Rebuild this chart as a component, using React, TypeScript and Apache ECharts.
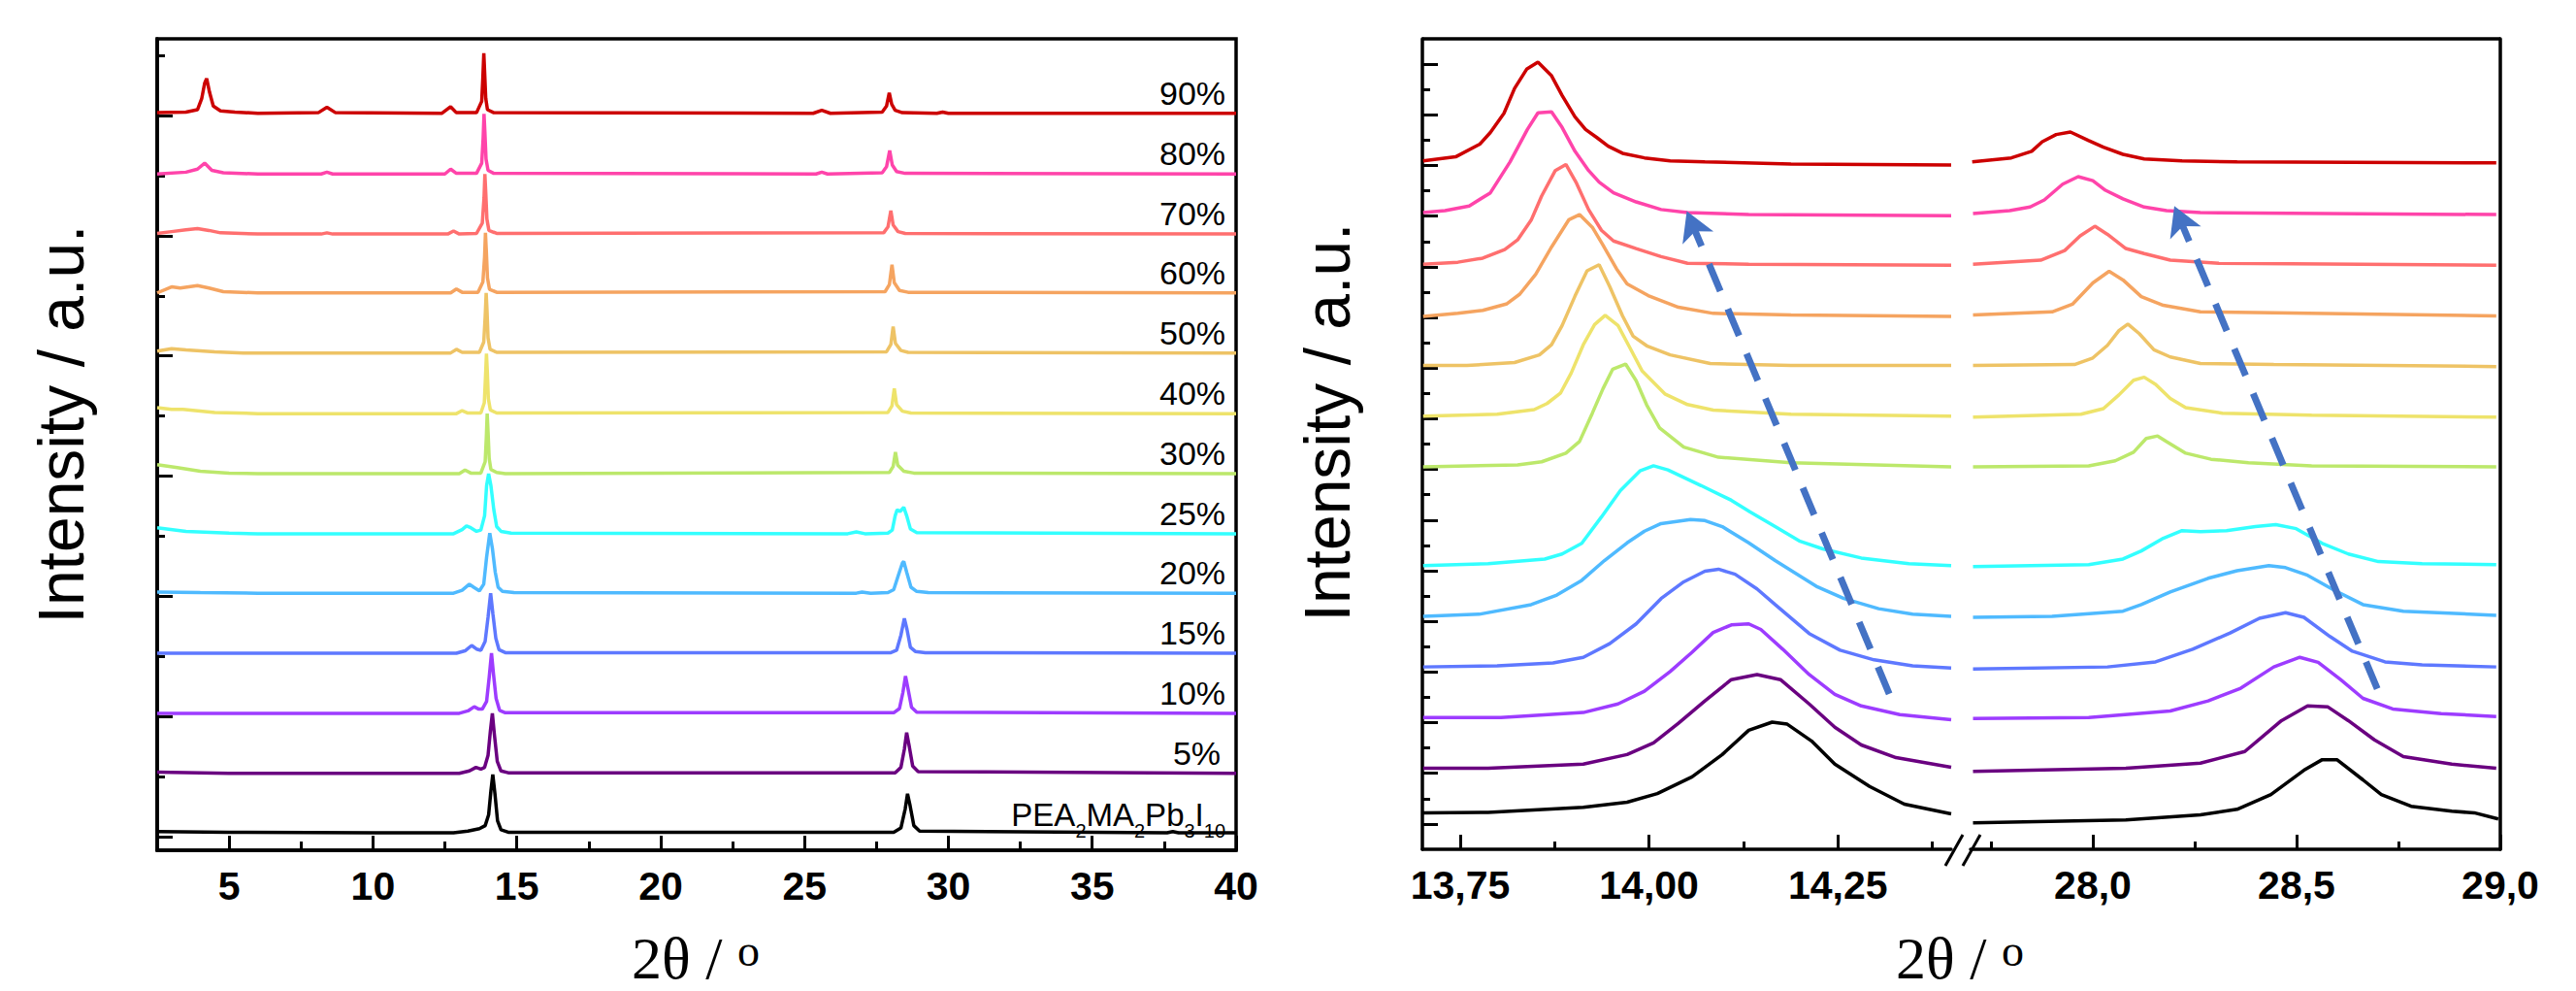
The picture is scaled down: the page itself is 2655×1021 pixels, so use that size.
import React, { useEffect, useRef } from 'react';
import * as echarts from 'echarts';

// ---------- names, colours, offsets ----------
const SAMPLE_LABELS = ['PEA2MA2Pb3I10', '5%', '10%', '15%', '20%', '25%', '30%', '40%', '50%', '60%', '70%', '80%', '90%'];
const COLORS = ['#000000', '#6A0080', '#9D3CFF', '#5E78FF', '#4FBAFF', '#33FFFF', '#BCE86B', '#EEE36B', '#EEC365', '#F5A460', '#FF6F6F', '#FF44AA', '#CC0000'];
const LEFT_OFFSETS = [0.06, 1.05, 2.05, 3.05, 4.05, 5.04, 6.04, 7.04, 8.05, 9.05, 10.03, 11.03, 12.04];
const RIGHT_OFFSETS = [0.1, 1.1, 2.1, 3.1, 4.1, 5.1, 7.05, 8.05, 9.05, 10.05, 11.05, 12.05, 13.05];

// ---------- ticks ----------
const LEFT_X_MAJOR = [5, 10, 15, 20, 25, 30, 35, 40];
const LEFT_X_MINOR = [7.5, 12.5, 17.5, 22.5, 27.5, 32.5, 37.5];
const LEFT_Y_MAJOR = [0, 2, 4, 6, 8, 10, 12];
const LEFT_Y_MINOR = [1, 3, 5, 7, 9, 11, 13];
const R14_X_MAJOR = [13.75, 14.0, 14.25];
const R14_X_MINOR = [13.875, 14.125, 14.375];
const R28_X_MAJOR = [28.0, 28.5, 29.0];
const R28_X_MINOR = [27.75, 28.25, 28.75];
const RIGHT_Y_MAJOR = [0, 1, 2, 3, 4, 5, 6, 7, 8, 9, 10, 11, 12, 13, 14, 15];
const RIGHT_Y_MINOR = [0.5, 1.5, 2.5, 3.5, 4.5, 5.5, 6.5, 7.5, 8.5, 9.5, 10.5, 11.5, 12.5, 13.5, 14.5];

// ---------- wide-range patterns [2θ, intensity above baseline] ----------
const WIDE_PEA = [[2.5,0.02],[5,0.01],[10,0],[12.8,0],[13.3,0.03],[13.7,0.07],[13.9,0.12],[14.02,0.3],[14.1,0.7],[14.165,0.97],[14.24,0.65],[14.33,0.2],[14.45,0.05],[14.7,0.01],[28.1,0.01],[28.35,0.08],[28.5,0.4],[28.58,0.65],[28.67,0.45],[28.8,0.12],[29.0,0.03],[37.6,0],[37.8,0.02],[38,0],[40,0]];
const WIDE_5 = [[2.5,0.02],[5,0],[13.0,0],[13.35,0.04],[13.58,0.1],[13.75,0.07],[13.88,0.1],[14.0,0.3],[14.08,0.7],[14.15,1.0],[14.22,0.65],[14.32,0.2],[14.45,0.04],[14.7,0.01],[28.15,0.01],[28.35,0.1],[28.47,0.4],[28.55,0.68],[28.64,0.45],[28.76,0.12],[28.95,0.03],[40,0]];
const WIDE_10 = [[2.5,0],[6,0],[13.0,0],[13.3,0.04],[13.52,0.11],[13.68,0.07],[13.8,0.07],[13.95,0.2],[14.04,0.6],[14.12,1.0],[14.19,0.65],[14.28,0.25],[14.4,0.05],[14.6,0.01],[28.1,0.01],[28.3,0.08],[28.42,0.35],[28.51,0.62],[28.6,0.4],[28.72,0.1],[28.9,0.02],[40,0]];
const WIDE_15 = [[2.5,0],[6,0],[12.9,0],[13.2,0.04],[13.43,0.13],[13.6,0.07],[13.75,0.05],[13.9,0.2],[14.0,0.6],[14.09,1.0],[14.17,0.65],[14.27,0.25],[14.38,0.06],[14.6,0.01],[28.0,0.01],[28.2,0.05],[28.35,0.3],[28.47,0.58],[28.56,0.4],[28.68,0.1],[28.85,0.03],[29.2,0.01],[40,0]];
const WIDE_20 = [[2.5,0.02],[4,0.01],[6,0],[12.8,0],[13.1,0.05],[13.35,0.15],[13.5,0.1],[13.7,0.04],[13.85,0.15],[13.95,0.6],[14.06,1.0],[14.15,0.75],[14.25,0.35],[14.35,0.1],[14.5,0.03],[14.9,0.01],[26.8,0],[27.0,0.02],[27.3,0],[27.9,0.01],[28.1,0.06],[28.25,0.28],[28.4,0.5],[28.45,0.53],[28.55,0.35],[28.7,0.1],[28.9,0.03],[29.3,0.01],[40,0]];
const WIDE_25 = [[2.5,0.1],[3.5,0.04],[5,0.01],[6,0],[12.8,0],[13.1,0.07],[13.25,0.13],[13.4,0.1],[13.6,0.04],[13.75,0.06],[13.88,0.3],[13.95,0.8],[14.02,1.0],[14.1,0.8],[14.2,0.4],[14.3,0.12],[14.45,0.04],[14.8,0.01],[26.5,0],[26.8,0.03],[27.1,0],[27.9,0.01],[28.05,0.06],[28.15,0.3],[28.22,0.4],[28.32,0.37],[28.45,0.44],[28.55,0.3],[28.68,0.08],[28.9,0.02],[40,0]];
const WIDE_30 = [[2.5,0.15],[3.2,0.1],[4.0,0.04],[5.0,0.01],[6,0],[13.0,0],[13.2,0.06],[13.4,0.01],[13.75,0.01],[13.9,0.2],[13.94,0.6],[13.97,1.0],[14.0,0.7],[14.04,0.25],[14.1,0.07],[14.3,0.02],[14.6,0],[27.95,0.02],[28.08,0.12],[28.16,0.36],[28.24,0.14],[28.45,0.04],[28.8,0.01],[40,0]];
const WIDE_40 = [[2.5,0.1],[3.0,0.07],[3.4,0.07],[4.5,0.02],[6,0],[12.9,0],[13.1,0.05],[13.3,0.01],[13.75,0.01],[13.87,0.18],[13.91,0.6],[13.945,1.0],[13.975,0.7],[14.01,0.25],[14.08,0.06],[14.3,0.01],[27.9,0.02],[28.04,0.13],[28.12,0.42],[28.2,0.15],[28.4,0.04],[28.7,0.01],[40,0]];
const WIDE_50 = [[2.5,0.03],[3.0,0.07],[3.5,0.05],[4.5,0.02],[5.5,0],[12.7,0],[12.9,0.06],[13.1,0.01],[13.7,0.01],[13.85,0.18],[13.9,0.6],[13.935,1.0],[13.965,0.7],[14.0,0.25],[14.07,0.06],[14.3,0.01],[27.85,0.02],[28.0,0.14],[28.08,0.44],[28.16,0.16],[28.35,0.04],[28.6,0.01],[40,0]];
const WIDE_60 = [[2.5,0],[3.0,0.1],[3.3,0.08],[3.9,0.12],[4.3,0.08],[4.8,0.02],[6,0],[12.7,0],[12.9,0.065],[13.1,0.01],[13.65,0.01],[13.82,0.18],[13.88,0.6],[13.91,1.0],[13.94,0.7],[13.98,0.25],[14.05,0.06],[14.3,0.01],[27.8,0.02],[27.95,0.14],[28.04,0.47],[28.12,0.17],[28.3,0.04],[28.6,0.01],[40,0]];
const WIDE_70 = [[2.5,0.01],[3.0,0.04],[3.5,0.07],[3.9,0.09],[4.3,0.06],[4.7,0.02],[6,0],[8.2,0],[8.4,0.02],[8.6,0],[12.6,0],[12.8,0.05],[13.0,0],[13.6,0.01],[13.8,0.18],[13.86,0.6],[13.89,1.0],[13.92,0.7],[13.96,0.25],[14.03,0.06],[14.3,0.01],[27.75,0.02],[27.9,0.12],[28.0,0.39],[28.08,0.15],[28.25,0.04],[28.5,0.01],[40,0]];
const WIDE_80 = [[2.5,0],[3.5,0.03],[3.9,0.08],[4.15,0.18],[4.4,0.06],[4.8,0.02],[6,0],[8.2,0],[8.4,0.03],[8.6,0],[12.5,0],[12.7,0.08],[12.9,0.01],[13.6,0.01],[13.78,0.18],[13.83,0.6],[13.86,1.0],[13.89,0.7],[13.93,0.25],[14.0,0.06],[14.2,0.01],[25.4,0],[25.6,0.03],[25.8,0],[27.7,0.02],[27.85,0.12],[27.96,0.39],[28.05,0.15],[28.2,0.04],[28.5,0.01],[40,0]];
const WIDE_90 = [[2.5,0.01],[3.5,0.02],[3.9,0.06],[4.05,0.25],[4.15,0.5],[4.22,0.58],[4.32,0.35],[4.45,0.12],[4.7,0.04],[5.2,0.02],[6,0],[8.1,0.01],[8.4,0.1],[8.7,0.01],[12.4,0],[12.7,0.11],[12.9,0.01],[13.6,0.01],[13.78,0.2],[13.82,0.6],[13.853,1.0],[13.88,0.7],[13.92,0.25],[13.98,0.06],[14.2,0.01],[25.3,0],[25.6,0.05],[25.9,0],[27.7,0.02],[27.85,0.12],[27.945,0.34],[28.03,0.15],[28.15,0.05],[28.4,0.01],[29.6,0],[29.8,0.02],[30,0],[40,0]];

// ---------- zoomed 14° region ----------
const R14_PEA = [[13.701,0.12],[13.787,0.13],[13.913,0.23],[13.971,0.33],[14.011,0.5],[14.057,0.83],[14.097,1.27],[14.132,1.75],[14.163,1.91],[14.183,1.87],[14.215,1.54],[14.246,1.08],[14.292,0.64],[14.338,0.29],[14.4,0.1]];
const R14_5 = [[13.701,0],[13.787,0],[13.913,0.08],[13.971,0.27],[14.006,0.5],[14.039,0.89],[14.074,1.33],[14.109,1.75],[14.143,1.85],[14.174,1.75],[14.212,1.27],[14.246,0.81],[14.281,0.46],[14.327,0.21],[14.4,0.02]];
const R14_10 = [[13.701,0],[13.804,0],[13.913,0.1],[13.959,0.27],[13.994,0.52],[14.028,0.91],[14.057,1.29],[14.085,1.68],[14.109,1.83],[14.132,1.85],[14.148,1.74],[14.177,1.35],[14.212,0.85],[14.246,0.46],[14.281,0.23],[14.332,0.06],[14.4,-0.04]];
const R14_15 = [[13.701,0],[13.799,0.02],[13.873,0.08],[13.913,0.19],[13.948,0.46],[13.983,0.85],[14.016,1.35],[14.046,1.68],[14.074,1.89],[14.092,1.93],[14.114,1.83],[14.143,1.54],[14.167,1.23],[14.212,0.66],[14.253,0.33],[14.298,0.14],[14.349,0.02],[14.4,-0.02]];
const R14_20 = [[13.701,0],[13.775,0.04],[13.844,0.23],[13.878,0.42],[13.911,0.71],[13.941,1.1],[13.971,1.45],[13.994,1.68],[14.016,1.83],[14.055,1.91],[14.074,1.89],[14.097,1.77],[14.132,1.45],[14.167,1.1],[14.223,0.58],[14.258,0.35],[14.304,0.15],[14.349,0.04],[14.4,0]];
const R14_25 = [[13.701,0],[13.787,0.04],[13.862,0.13],[13.885,0.23],[13.911,0.44],[13.937,0.96],[13.962,1.48],[13.988,1.87],[14.006,1.97],[14.025,1.89],[14.069,1.58],[14.109,1.29],[14.134,1.06],[14.167,0.77],[14.2,0.48],[14.23,0.33],[14.281,0.15],[14.344,0.04],[14.4,0]];
const R14_30 = [[13.701,0],[13.826,0.04],[13.858,0.1],[13.89,0.27],[13.908,0.5],[13.925,1.06],[13.939,1.54],[13.952,1.93],[13.969,2.03],[13.983,1.7],[13.997,1.22],[14.014,0.77],[14.046,0.39],[14.092,0.19],[14.188,0.08],[14.4,0]];
const R14_40 = [[13.701,0],[13.799,0.04],[13.848,0.13],[13.865,0.25],[13.883,0.46],[13.897,0.85],[13.913,1.41],[13.928,1.81],[13.942,1.99],[13.959,1.79],[13.974,1.37],[13.991,0.89],[14.021,0.44],[14.051,0.23],[14.085,0.12],[14.188,0.04],[14.4,0]];
const R14_50 = [[13.701,0],[13.759,0],[13.822,0.06],[13.855,0.21],[13.871,0.41],[13.885,0.79],[13.902,1.37],[13.918,1.87],[13.934,1.99],[13.948,1.56],[13.965,0.98],[13.979,0.58],[13.997,0.39],[14.028,0.21],[14.081,0.04],[14.188,0],[14.4,0]];
const R14_60 = [[13.701,-0.03],[13.747,0.03],[13.78,0.09],[13.812,0.22],[13.829,0.41],[13.85,0.8],[13.871,1.34],[13.894,1.88],[13.908,1.98],[13.925,1.73],[13.939,1.38],[13.957,0.91],[13.971,0.61],[13.999,0.38],[14.039,0.15],[14.085,0.03],[14.188,0],[14.4,-0.03]];
const R14_70 = [[13.701,0],[13.747,0.04],[13.78,0.12],[13.809,0.29],[13.826,0.48],[13.844,0.87],[13.858,1.35],[13.876,1.85],[13.89,1.97],[13.904,1.6],[13.92,1.08],[13.937,0.67],[13.953,0.46],[13.983,0.31],[14.016,0.15],[14.051,0.02],[14.132,0],[14.4,-0.02]];
const R14_80 = [[13.701,0.02],[13.73,0.06],[13.762,0.15],[13.79,0.41],[13.816,1.02],[13.839,1.66],[13.853,1.99],[13.871,2.01],[13.885,1.7],[13.902,1.23],[13.92,0.85],[13.934,0.62],[13.953,0.41],[13.983,0.23],[14.016,0.08],[14.051,0.02],[14.132,-0.02],[14.4,-0.04]];
const R14_90 = [[13.701,0.04],[13.744,0.12],[13.776,0.37],[13.79,0.6],[13.808,0.98],[13.822,1.47],[13.838,1.85],[13.853,1.99],[13.871,1.72],[13.885,1.33],[13.902,0.91],[13.916,0.66],[13.931,0.5],[13.946,0.33],[13.965,0.19],[13.994,0.1],[14.028,0.04],[14.074,0.02],[14.188,-0.02],[14.4,-0.04]];

// ---------- zoomed 28° region ----------
const R28_PEA = [[27.706,-0.08],[28.081,-0.02],[28.264,0.08],[28.354,0.19],[28.437,0.48],[28.518,0.96],[28.563,1.17],[28.599,1.17],[28.663,0.77],[28.708,0.48],[28.781,0.25],[28.881,0.15],[28.936,0.12],[28.995,0]];
const R28_5 = [[27.706,-0.06],[28.081,0],[28.264,0.1],[28.373,0.33],[28.463,0.94],[28.527,1.23],[28.577,1.21],[28.627,0.94],[28.691,0.56],[28.762,0.23],[28.881,0.08],[28.99,0]];
const R28_10 = [[27.706,-0.02],[27.99,0],[28.19,0.13],[28.283,0.33],[28.363,0.58],[28.444,1.0],[28.508,1.19],[28.553,1.09],[28.608,0.75],[28.663,0.38],[28.736,0.17],[28.855,0.08],[28.99,0.02]];
const R28_15 = [[27.706,-0.04],[28.036,0],[28.154,0.1],[28.245,0.35],[28.337,0.67],[28.409,0.96],[28.473,1.07],[28.518,0.98],[28.582,0.6],[28.637,0.31],[28.717,0.1],[28.808,0.04],[28.99,0]];
const R28_20 = [[27.706,-0.02],[27.9,0],[28.074,0.1],[28.119,0.23],[28.19,0.48],[28.283,0.75],[28.354,0.9],[28.432,1.0],[28.473,0.96],[28.527,0.81],[28.591,0.52],[28.663,0.23],[28.762,0.1],[28.99,0.02]];
const R28_25 = [[27.706,-0.02],[27.99,0.02],[28.074,0.13],[28.119,0.29],[28.173,0.54],[28.219,0.69],[28.264,0.67],[28.328,0.69],[28.399,0.77],[28.449,0.81],[28.499,0.73],[28.563,0.44],[28.627,0.23],[28.701,0.08],[28.808,0.04],[28.99,0.02]];
const R28_30 = [[27.706,0],[27.99,0.02],[28.055,0.12],[28.1,0.29],[28.131,0.56],[28.159,0.61],[28.181,0.5],[28.228,0.27],[28.29,0.15],[28.382,0.08],[28.537,0.02],[28.99,0]];
const R28_40 = [[27.706,-0.02],[27.971,0.04],[28.026,0.15],[28.064,0.42],[28.1,0.71],[28.126,0.77],[28.154,0.63],[28.19,0.35],[28.228,0.17],[28.318,0.06],[28.537,0.02],[28.99,-0.02]];
const R28_50 = [[27.706,0],[27.955,0.02],[28.0,0.15],[28.036,0.4],[28.064,0.69],[28.086,0.82],[28.114,0.63],[28.15,0.31],[28.19,0.17],[28.264,0.04],[28.444,0.02],[28.99,-0.02]];
const R28_60 = [[27.706,0],[27.9,0.06],[27.95,0.21],[28.0,0.63],[28.04,0.86],[28.074,0.69],[28.119,0.36],[28.173,0.19],[28.264,0.06],[28.444,0.04],[28.99,-0.02]];
const R28_70 = [[27.706,0],[27.872,0.08],[27.931,0.27],[27.969,0.56],[28.005,0.75],[28.036,0.59],[28.081,0.31],[28.126,0.21],[28.19,0.08],[28.309,0.02],[28.99,-0.02]];
const R28_80 = [[27.706,0],[27.796,0.06],[27.846,0.13],[27.881,0.27],[27.926,0.58],[27.964,0.73],[28.0,0.65],[28.031,0.46],[28.074,0.29],[28.126,0.13],[28.181,0.06],[28.264,0.02],[28.99,-0.02]];
const R28_90 = [[27.704,0.02],[27.8,0.1],[27.85,0.23],[27.876,0.42],[27.91,0.56],[27.945,0.61],[27.99,0.44],[28.026,0.31],[28.074,0.17],[28.126,0.08],[28.219,0.04],[28.354,0.02],[28.99,0]];

// ---------- peak-shift arrows [start, end] ----------
const ARROW_14 = [[14.318, 2.57], [14.05, 12.1]];
const ARROW_28 = [[28.698, 2.67], [28.2, 12.2]];

const WIDE = [WIDE_PEA, WIDE_5, WIDE_10, WIDE_15, WIDE_20, WIDE_25, WIDE_30, WIDE_40, WIDE_50, WIDE_60, WIDE_70, WIDE_80, WIDE_90];
const R14 = [R14_PEA, R14_5, R14_10, R14_15, R14_20, R14_25, R14_30, R14_40, R14_50, R14_60, R14_70, R14_80, R14_90];
const R28 = [R28_PEA, R28_5, R28_10, R28_15, R28_20, R28_25, R28_30, R28_40, R28_50, R28_60, R28_70, R28_80, R28_90];

const SANS = "'Liberation Sans', Arial, Helvetica, sans-serif";
const SERIF = "'Liberation Serif', 'Times New Roman', serif";

function buildOption() {
  const tickLabel = { fontSize: 41, fontWeight: 'bold', fontFamily: SANS, color: '#000', margin: 16 };
  const axLine = { show: true, onZero: false, lineStyle: { color: '#000', width: 3.5 } };
  const noLine = { show: false, onZero: false };
  const mkX = (grid: number, min: number, max: number, ticks: number[], len: number, labels: boolean, fmt?: (v: number) => string) => ({
    type: 'value', gridIndex: grid, min, max, position: 'bottom',
    axisLine: labels ? axLine : noLine,
    axisTick: { show: true, inside: true, length: len, customValues: ticks, lineStyle: { color: '#000', width: 3 } },
    axisLabel: labels ? { show: true, customValues: ticks, formatter: fmt, ...tickLabel } : { show: false },
    splitLine: { show: false },
  });
  const mkY = (grid: number, min: number, max: number, ticks: number[], len: number, line: boolean) => ({
    type: 'value', gridIndex: grid, min, max, position: 'left',
    axisLine: line ? axLine : noLine,
    axisTick: { show: true, inside: true, length: len, customValues: ticks, lineStyle: { color: '#000', width: 3 } },
    axisLabel: { show: false },
    splitLine: { show: false },
  });

  const xAxis = [
    mkX(0, 2.5, 40, LEFT_X_MAJOR, 15, true, (v: number) => String(v)),
    mkX(0, 2.5, 40, LEFT_X_MINOR, 9, false),
    mkX(1, 13.7, 14.4, R14_X_MAJOR, 15, true, (v: number) => v.toFixed(2).replace('.', ',')),
    mkX(1, 13.7, 14.4, R14_X_MINOR, 8, false),
    mkX(2, 27.7, 29.0, R28_X_MAJOR, 15, true, (v: number) => v.toFixed(1).replace('.', ',')),
    mkX(2, 27.7, 29.0, R28_X_MINOR, 8, false),
  ];
  const yAxis = [
    mkY(0, -0.23, 13.28, LEFT_Y_MAJOR, 16, true),
    mkY(0, -0.23, 13.28, LEFT_Y_MINOR, 8, false),
    mkY(1, -0.5, 15.5, RIGHT_Y_MAJOR, 16, true),
    mkY(1, -0.5, 15.5, RIGHT_Y_MINOR, 8, false),
    { type: 'value', gridIndex: 2, min: -0.5, max: 15.5, position: 'right', axisLine: axLine, axisTick: { show: false }, axisLabel: { show: false }, splitLine: { show: false } },
  ];

  const series: any[] = [];
  WIDE.forEach((pts, i) => {
    series.push({
      type: 'line', name: 'w' + SAMPLE_LABELS[i], xAxisIndex: 0, yAxisIndex: 0,
      data: pts.map(([x, v]) => [x, v + LEFT_OFFSETS[i]]),
      showSymbol: false, symbol: 'none', silent: true,
      lineStyle: { color: COLORS[i], width: 3.5 },
    });
  });
  series.push({
    type: 'scatter', xAxisIndex: 0, yAxisIndex: 0, symbolSize: 0, silent: true, z: 5,
    data: SAMPLE_LABELS.map((t, i) => ({
      value: [39.63, LEFT_OFFSETS[i]],
      label: t.startsWith('PEA')
        ? { formatter: '{m|PEA}{s|2}{m|MA}{s|2}{m|Pb}{s|3}{m|I}{s|10}', offset: [0, -19] }
        : { formatter: t, offset: [t === '5%' ? -5 : 0, -21] },
    })),
    label: {
      show: true, position: 'left', distance: 0, fontSize: 34, fontFamily: SANS, color: '#000', opacity: 1,
      textBorderWidth: 0,
      rich: {
        m: { fontSize: 33, fontFamily: SANS, color: '#000', verticalAlign: 'top', lineHeight: 33 },
        s: { fontSize: 20, fontFamily: SANS, color: '#000', verticalAlign: 'top', lineHeight: 20, padding: [23, 0, 0, 0] },
      },
    },
  });
  R14.forEach((pts, i) => {
    series.push({
      type: 'line', name: 'a' + SAMPLE_LABELS[i], xAxisIndex: 2, yAxisIndex: 2,
      data: pts.map(([x, v]) => [x, v + RIGHT_OFFSETS[i]]),
      showSymbol: false, symbol: 'none', silent: true,
      lineStyle: { color: COLORS[i], width: 3.5 },
    });
  });
  R28.forEach((pts, i) => {
    series.push({
      type: 'line', name: 'b' + SAMPLE_LABELS[i], xAxisIndex: 4, yAxisIndex: 4,
      data: pts.map(([x, v]) => [x, v + RIGHT_OFFSETS[i]]),
      showSymbol: false, symbol: 'none', silent: true,
      lineStyle: { color: COLORS[i], width: 3.5 },
    });
  });
  const arrowLine = (xa: number, ya: number, arr: number[][]) => ({
    type: 'line', xAxisIndex: xa, yAxisIndex: ya, data: [], silent: true, showSymbol: false,
    markLine: {
      silent: true, animation: false,
      symbol: ['none', 'arrow'], symbolSize: [26, 30],
      label: { show: false },
      lineStyle: { color: '#4472C4', width: 7, type: [30, 20], opacity: 1 },
      emphasis: { disabled: true },
      data: [[{ coord: arr[0] }, { coord: arr[1] }]],
    },
  });
  series.push(arrowLine(2, 2, ARROW_14));
  series.push(arrowLine(4, 4, ARROW_28));

  const graphic = [
    { type: 'line', shape: { x1: 1466, y1: 40, x2: 2577, y2: 40 }, style: { stroke: '#000', lineWidth: 3.5 } },
    { type: 'line', shape: { x1: 2005, y1: 892, x2: 2023, y2: 860 }, style: { stroke: '#000', lineWidth: 3 } },
    { type: 'line', shape: { x1: 2023, y1: 892, x2: 2041, y2: 860 }, style: { stroke: '#000', lineWidth: 3 } },
    {
      type: 'text', x: 63, y: 437, rotation: Math.PI / 2,
      style: { text: 'Intensity / a.u.', fontSize: 66, fontFamily: SANS, fill: '#000', align: 'center', verticalAlign: 'middle', textAlign: 'center', textVerticalAlign: 'middle' },
    },
    {
      type: 'text', x: 1368, y: 435, rotation: Math.PI / 2,
      style: { text: 'Intensity / a.u.', fontSize: 66, fontFamily: SANS, fill: '#000', align: 'center', verticalAlign: 'middle', textAlign: 'center', textVerticalAlign: 'middle' },
    },
    ...[717, 2020].map((cx) => ({
      type: 'text', x: cx, y: 987,
      style: {
        text: '{a|2θ / }{b|o}',
        rich: {
          a: { fontSize: 62, fontFamily: SERIF, fill: '#000', color: '#000', verticalAlign: 'top' },
          b: { fontSize: 46, fontFamily: SERIF, fill: '#000', color: '#000', verticalAlign: 'top' },
        },
        fill: '#000', align: 'center', verticalAlign: 'middle', textAlign: 'center', textVerticalAlign: 'middle',
      },
    })),
  ];

  return {
    animation: false,
    backgroundColor: '#ffffff',
    grid: [
      { left: 162, top: 40, width: 1112, height: 836, show: true, borderColor: '#000', borderWidth: 3.5, backgroundColor: 'transparent' },
      { left: 1466, top: 40, width: 545, height: 835, show: false },
      { left: 2031, top: 40, width: 546, height: 835, show: false },
    ],
    xAxis, yAxis, series, graphic,
  };
}

export default function App() {
  const ref = useRef<HTMLDivElement>(null);
  useEffect(() => {
    if (!ref.current) return;
    const chart = echarts.init(ref.current, undefined, { renderer: 'svg' });
    chart.setOption(buildOption() as any);
    return () => chart.dispose();
  }, []);
  return <div ref={ref} style={{ position: 'fixed', left: 0, top: 0, width: 2655, height: 1021, background: '#fff' }} />;
}
